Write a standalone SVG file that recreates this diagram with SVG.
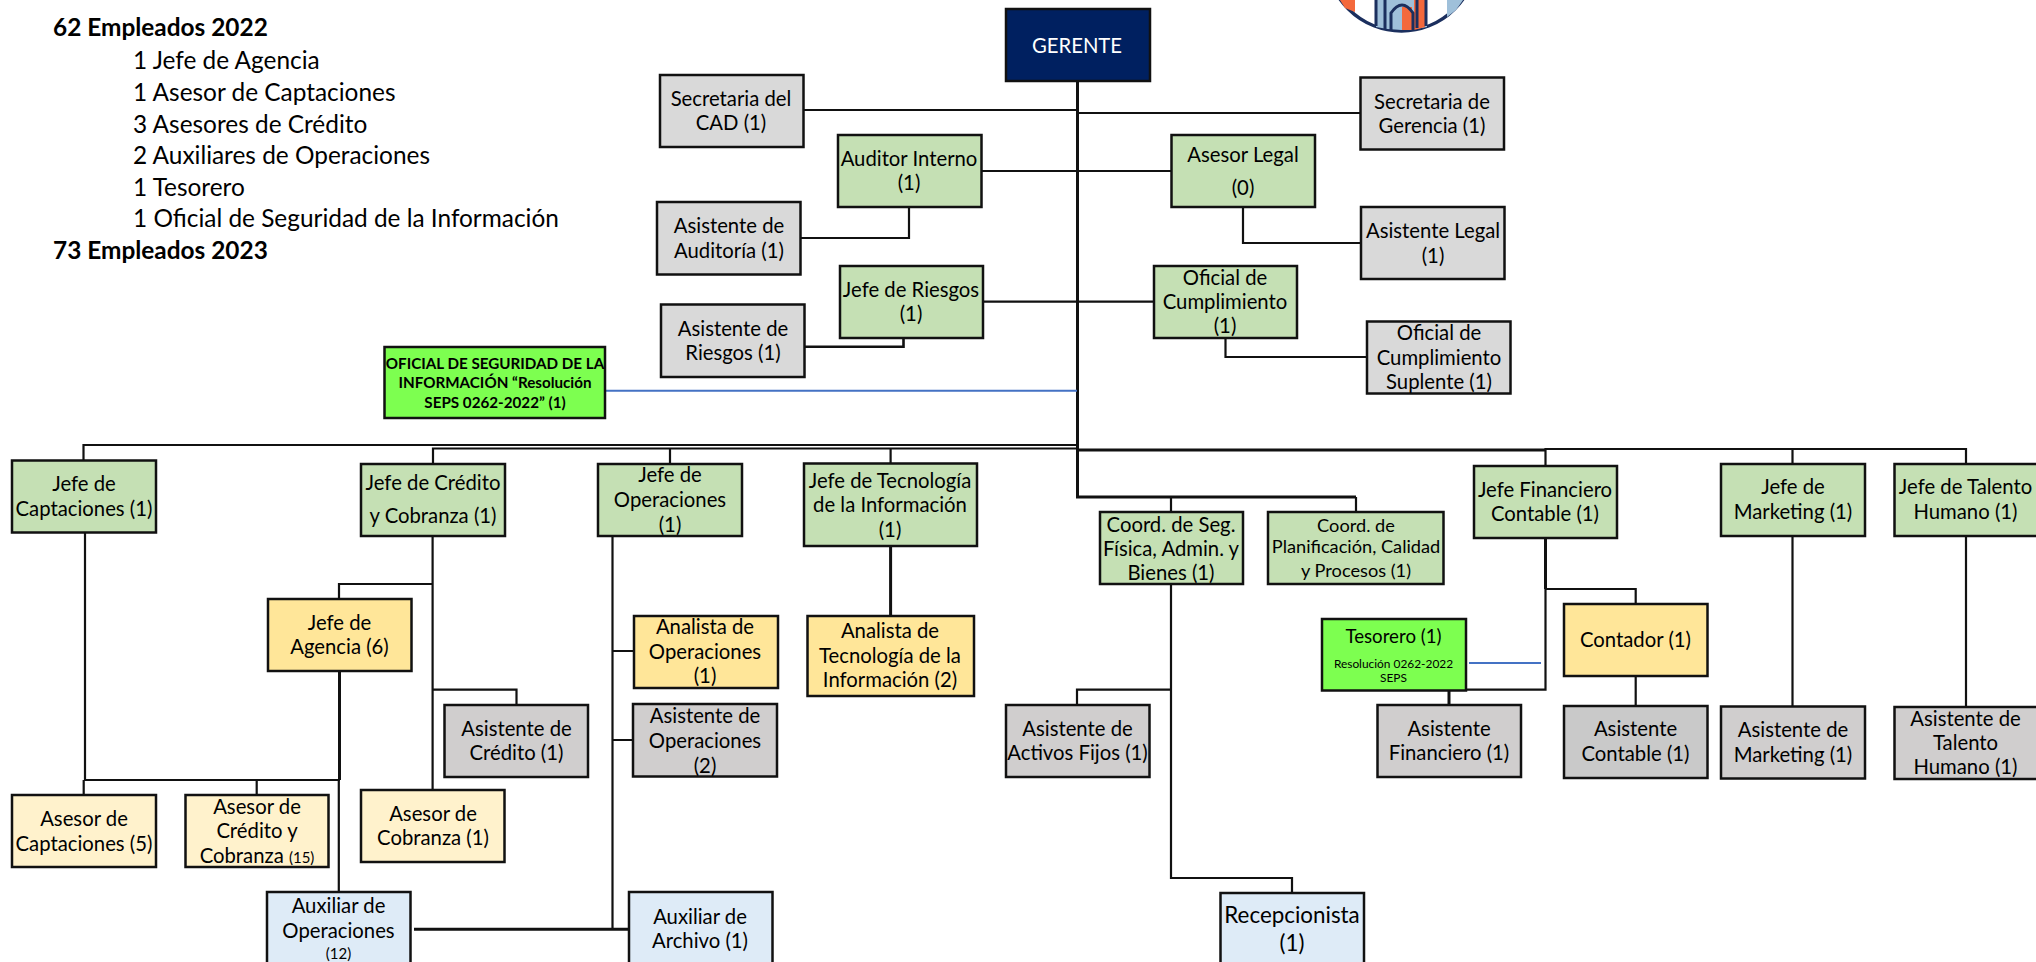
<svg xmlns="http://www.w3.org/2000/svg" width="2036" height="962" viewBox="0 0 2036 962">
<style>
text{font-family:Lato,"Liberation Sans",sans-serif;font-size:20.3px;fill:#000;text-anchor:middle;transform:translateY(1px)}
.l{text-anchor:start;font-size:24.4px}
.b{font-weight:700}
.s{font-size:18.2px}
.xs{font-size:11.9px}
.sm{font-size:15px}
.osi{font-size:15.2px}
.big{font-size:22.4px}
.r{fill:#d9d9d9;stroke:#111;stroke-width:2.5}
.g{fill:#c5e0b4;stroke:#111;stroke-width:2.5}
.y{fill:#ffe699;stroke:#111;stroke-width:2.5}
.p{fill:#fff2cc;stroke:#111;stroke-width:2.5}
.c{fill:#d0cece;stroke:#111;stroke-width:2.5}
.u{fill:#deebf7;stroke:#111;stroke-width:2.5}
.n{fill:#7dff50;stroke:#111;stroke-width:2.5}
#connectors path{fill:none;stroke:#111;stroke-width:2.2}
#connectors .t{stroke-width:3}
#connectors .bl{stroke:#4472c4;stroke-width:2}
</style>
<g id="logo">
<circle cx="1401.5" cy="-44" r="75" fill="#fff" stroke="#1b2f5e" stroke-width="3.5"/>
<path d="M1340 0H1355V12L1345 8Z" fill="#f4693c"/>
<path d="M1447 0H1463L1456 10L1447 17Z" fill="#9fc0da"/>
<path d="M1376 0H1427V27Q1402 33 1376 27Z" fill="#9fc0da"/>
<path d="M1402 7H1412V30H1402ZM1414 0H1425V27L1414 30Z" fill="#f4693c"/>
<path d="M1376 0V26M1385 0V29M1391 30V13Q1402 -3 1413 13V30M1417 0V28M1426 0V26" fill="none" stroke="#1b2f5e" stroke-width="3"/>
</g>
<g id="connectors">
<path class="t" d="M1077.5 81V497H1356"/>
<path d="M803 110H1077M1077 113H1360M981 171H1171M909 207V238H800M1243 207V243H1361M983 301.7H1154M1225.5 338V357H1367"/>
<path d="M903.5 333V346.7H801" style="stroke-width:2.6"/>
<path class="bl" d="M605 390.7H1077M1469 663H1541"/>
<path d="M83.5 460V445H1077M433 464V448.5H1077M670 449V464M890.6 449V463"/>
<path class="t" d="M1077 450H1545.5"/>
<path d="M1545.5 466V449H1966V464M1792.5 449V464M1966 536V707M1792.5 536V707"/>
<path d="M85 532V780M83.7 780V798M84 780H340M256.7 780V795M338.8 780V892"/>
<path class="t" d="M339.5 671V780"/>
<path d="M432.6 536V790M432.6 584H339V599M432.6 689.7H516.5V705"/>
<path d="M612.5 536V929M612.5 651H634M612.5 740H633"/>
<path class="t" d="M414 929.3H629M890.6 546V616"/>
<path d="M1171 497V512M1356 497V512M1171 584V878H1292V893M1171 689.7H1077V705"/>
<path class="t" d="M1545.5 538V589"/>
<path d="M1545.5 589V689.7H1466M1545.5 589H1635.7V604M1635.7 676V706"/>
<path class="t" d="M1449 691V705"/>
</g>
<g id="header-text">
<text class="l b" x="53" y="35">62 Empleados 2022</text>
<text class="l" x="133" y="68">1 Jefe de Agencia</text>
<text class="l" x="133" y="100">1 Asesor de Captaciones</text>
<text class="l" x="133" y="131.5">3 Asesores de Crédito</text>
<text class="l" x="133" y="163">2 Auxiliares de Operaciones</text>
<text class="l" x="133" y="195">1 Tesorero</text>
<text class="l" x="133" y="226">1 Oficial de Seguridad de la Información</text>
<text class="l b" x="53" y="257.5">73 Empleados 2023</text>
</g>
<g id="gerente"><rect x="1006" y="9" width="144" height="72" fill="#002060" stroke="#111" stroke-width="2.5"/><text x="1077" y="51.5" style="fill:#fff">GERENTE</text></g>
<g id="sec-cad"><rect class="r" x="660" y="75" width="143.5" height="72"/><text x="731" y="105">Secretaria del</text><text x="731" y="128.5">CAD (1)</text></g>
<g id="sec-gerencia"><rect class="r" x="1360.5" y="77.5" width="143.5" height="72"/><text x="1432" y="108">Secretaria de</text><text x="1432" y="132">Gerencia (1)</text></g>
<g id="auditor"><rect class="g" x="838" y="135" width="143.5" height="72"/><text x="909" y="165">Auditor Interno</text><text x="909" y="189">(1)</text></g>
<g id="asesor-legal"><rect class="g" x="1171.5" y="135" width="143.5" height="72"/><text x="1243" y="161">Asesor Legal</text><text x="1243" y="194">(0)</text></g>
<g id="asist-auditoria"><rect class="r" x="657" y="202" width="143.5" height="72.5"/><text x="729" y="232">Asistente de</text><text x="729" y="257">Auditoría (1)</text></g>
<g id="asist-legal"><rect class="r" x="1361" y="207" width="143.5" height="72"/><text x="1433" y="237">Asistente Legal</text><text x="1433" y="262">(1)</text></g>
<g id="jefe-riesgos"><rect class="g" x="840" y="266" width="143" height="72"/><text x="911" y="296">Jefe de Riesgos</text><text x="911" y="320">(1)</text></g>
<g id="oficial-cumplimiento"><rect class="g" x="1154" y="266" width="143" height="72"/><text x="1225" y="284">Oficial de</text><text x="1225" y="308">Cumplimiento</text><text x="1225" y="332">(1)</text></g>
<g id="asist-riesgos"><rect class="r" x="661" y="304.5" width="143.5" height="72.5"/><text x="733" y="335">Asistente de</text><text x="733" y="359">Riesgos (1)</text></g>
<g id="oficial-suplente"><rect class="r" x="1367" y="321.5" width="143.5" height="72"/><text x="1439" y="339">Oficial de</text><text x="1439" y="364">Cumplimiento</text><text x="1439" y="388">Suplente (1)</text></g>
<g id="oficial-seguridad"><rect class="n" x="384.5" y="347" width="220.5" height="71"/><text class="b osi" x="495" y="368">OFICIAL DE SEGURIDAD DE LA</text><text class="b osi" x="495" y="387">INFORMACIÓN “Resolución</text><text class="b osi" x="495" y="406.5">SEPS 0262-2022” (1)</text></g>
<g id="jefe-captaciones"><rect class="g" x="12" y="460.5" width="144" height="72"/><text x="84" y="490">Jefe de</text><text x="84" y="515">Captaciones (1)</text></g>
<g id="jefe-credito"><rect class="g" x="361" y="464" width="144" height="72"/><text x="433" y="489">Jefe de Crédito</text><text x="433" y="522">y Cobranza (1)</text></g>
<g id="jefe-operaciones"><rect class="g" x="598" y="464" width="144" height="72"/><text x="670" y="481">Jefe de</text><text x="670" y="506">Operaciones</text><text x="670" y="530.5">(1)</text></g>
<g id="jefe-tecnologia"><rect class="g" x="804" y="463.5" width="173" height="82.5"/><text x="890" y="486.5">Jefe de Tecnología</text><text x="890" y="511">de la Información</text><text x="890" y="535.5">(1)</text></g>
<g id="coord-seg"><rect class="g" x="1100" y="512" width="143" height="72"/><text x="1171" y="530.5">Coord. de Seg.</text><text x="1171" y="555">Física, Admin. y</text><text x="1171" y="579">Bienes (1)</text></g>
<g id="coord-plan"><rect class="g" x="1268" y="512" width="175.5" height="72"/><text class="s" x="1356" y="531">Coord. de</text><text class="s" x="1356" y="552">Planificación, Calidad</text><text class="s" x="1356" y="576">y Procesos (1)</text></g>
<g id="jefe-financiero"><rect class="g" x="1474" y="466" width="143" height="72"/><text x="1545" y="496">Jefe Financiero</text><text x="1545" y="520">Contable (1)</text></g>
<g id="jefe-marketing"><rect class="g" x="1721" y="464" width="144" height="72"/><text x="1793" y="492.5">Jefe de</text><text x="1793" y="518">Marketing (1)</text></g>
<g id="jefe-talento"><rect class="g" x="1894.5" y="464" width="144" height="72"/><text x="1965.5" y="493">Jefe de Talento</text><text x="1965.5" y="518">Humano (1)</text></g>
<g id="jefe-agencia"><rect class="y" x="268" y="599" width="143.5" height="72"/><text x="339.5" y="629">Jefe de</text><text x="339.5" y="653">Agencia (6)</text></g>
<g id="analista-op"><rect class="y" x="634" y="616" width="144" height="72"/><text x="705" y="633">Analista de</text><text x="705" y="658">Operaciones</text><text x="705" y="682">(1)</text></g>
<g id="analista-tec"><rect class="y" x="807.5" y="616" width="166.5" height="80"/><text x="890" y="637">Analista de</text><text x="890" y="662">Tecnología de la</text><text x="890" y="686">Información (2)</text></g>
<g id="tesorero"><rect class="n" x="1322" y="619" width="144" height="71.5"/><text x="1393.5" y="641.5" style="font-size:18.7px">Tesorero (1)</text><text class="xs" x="1393.5" y="666.5">Resolución 0262-2022</text><text class="xs" x="1393.5" y="680.5">SEPS</text></g>
<g id="contador"><rect class="y" x="1564" y="604" width="143.5" height="72"/><text x="1635.5" y="646">Contador (1)</text></g>
<g id="asist-financiero"><rect class="c" x="1377.5" y="705" width="143.5" height="72"/><text x="1449" y="735">Asistente</text><text x="1449" y="759">Financiero (1)</text></g>
<g id="asist-contable"><rect class="c" x="1564" y="706" width="143.5" height="72" style="fill:#c9c9c9"/><text x="1635.5" y="735">Asistente</text><text x="1635.5" y="760">Contable (1)</text></g>
<g id="asist-marketing"><rect class="c" x="1721" y="706.5" width="144" height="72"/><text x="1793" y="736">Asistente de</text><text x="1793" y="761">Marketing (1)</text></g>
<g id="asist-talento"><rect class="c" x="1894.5" y="707" width="144" height="72"/><text x="1965.5" y="725">Asistente de</text><text x="1965.5" y="749">Talento</text><text x="1965.5" y="773">Humano (1)</text></g>
<g id="asist-credito"><rect class="c" x="444.5" y="705" width="143.5" height="72"/><text x="516.5" y="735">Asistente de</text><text x="516.5" y="759">Crédito (1)</text></g>
<g id="asist-operaciones"><rect class="c" x="633" y="704" width="144" height="72.5"/><text x="705" y="722">Asistente de</text><text x="705" y="747">Operaciones</text><text x="705" y="772">(2)</text></g>
<g id="asist-activos"><rect class="c" x="1006" y="705" width="143.5" height="72"/><text x="1077.5" y="735">Asistente de</text><text x="1077.5" y="759">Activos Fijos (1)</text></g>
<g id="asesor-captaciones"><rect class="p" x="12" y="795" width="144" height="72"/><text x="84" y="825">Asesor de</text><text x="84" y="850">Captaciones (5)</text></g>
<g id="asesor-credito"><rect class="p" x="185.5" y="795" width="143" height="72"/><text x="257" y="813">Asesor de</text><text x="257" y="837">Crédito y</text><text x="257" y="862">Cobranza <tspan class="sm">(15)</tspan></text></g>
<g id="asesor-cobranza"><rect class="p" x="361" y="790" width="143.5" height="72"/><text x="433" y="820">Asesor de</text><text x="433" y="844">Cobranza (1)</text></g>
<g id="aux-operaciones"><rect class="u" x="267" y="892" width="143.5" height="75"/><text x="338.5" y="912">Auxiliar de</text><text x="338.5" y="937">Operaciones</text><text class="sm" x="338.5" y="957.5">(12)</text></g>
<g id="aux-archivo"><rect class="u" x="629" y="892" width="143.5" height="75"/><text x="700" y="923">Auxiliar de</text><text x="700" y="947">Archivo (1)</text></g>
<g id="recepcionista"><rect class="u" x="1220.5" y="893" width="143.5" height="74"/><text class="big" x="1292" y="922">Recepcionista</text><text class="big" x="1292" y="950">(1)</text></g>
</svg>
